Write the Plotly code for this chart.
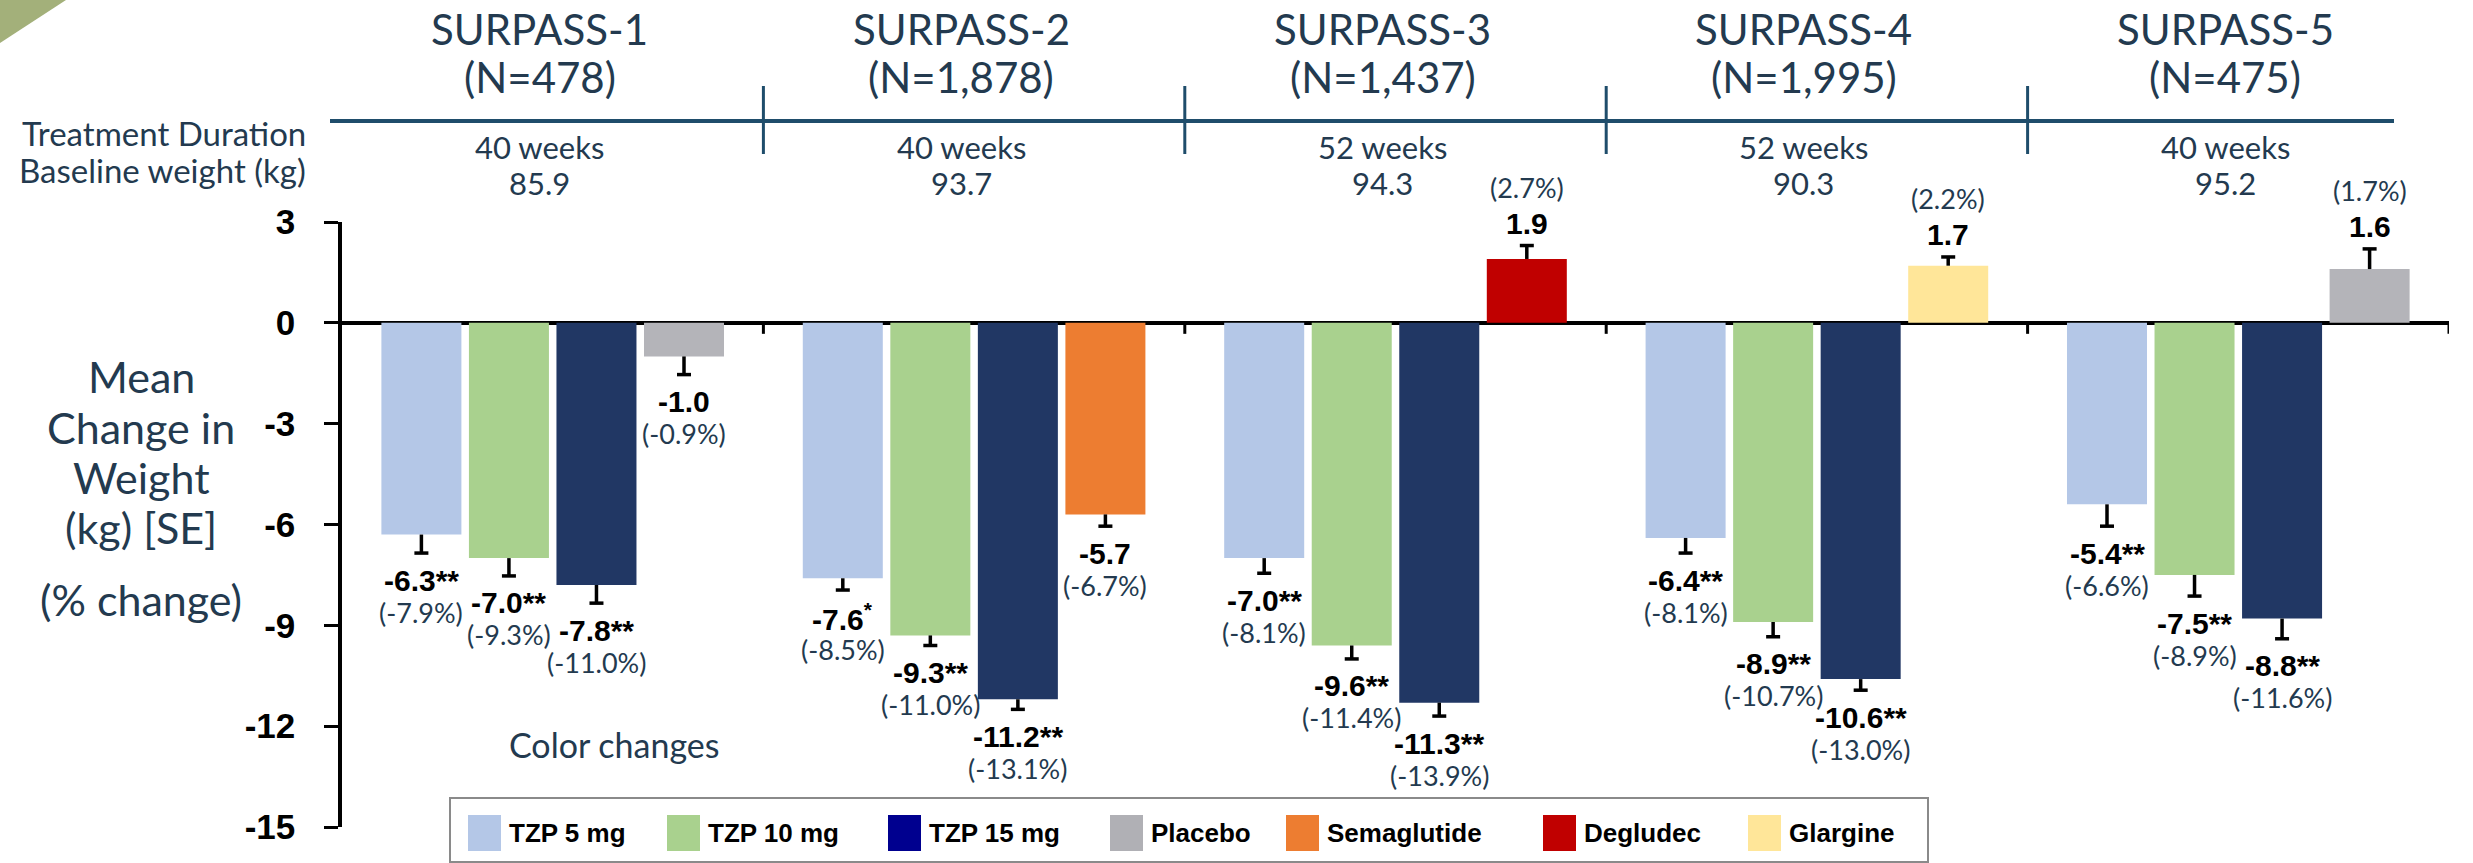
import plotly.graph_objects as go

# ---------------- data ----------------
trials = ["SURPASS-1", "SURPASS-2", "SURPASS-3", "SURPASS-4", "SURPASS-5"]
n_labels = ["(N=478)", "(N=1,878)", "(N=1,437)", "(N=1,995)", "(N=475)"]
durations = ["40 weeks", "40 weeks", "52 weeks", "52 weeks", "40 weeks"]
baseline_kg = ["85.9", "93.7", "94.3", "90.3", "95.2"]
comparators = ["Placebo", "Semaglutide", "Degludec", "Glargine", "Placebo"]

tzp5_kg = [-6.3, -7.6, -7.0, -6.4, -5.4]
tzp5_pct = [-7.9, -8.5, -8.1, -8.1, -6.6]
tzp5_se = [0.55, 0.35, 0.45, 0.45, 0.65]
tzp5_sig = ["**", "*", "**", "**", "**"]

tzp10_kg = [-7.0, -9.3, -9.6, -8.9, -7.5]
tzp10_pct = [-9.3, -11.0, -11.4, -10.7, -8.9]
tzp10_se = [0.53, 0.30, 0.40, 0.44, 0.63]
tzp10_sig = ["**", "**", "**", "**", "**"]

tzp15_kg = [-7.8, -11.2, -11.3, -10.6, -8.8]
tzp15_pct = [-11.0, -13.1, -13.9, -13.0, -11.6]
tzp15_se = [0.54, 0.30, 0.40, 0.33, 0.60]
tzp15_sig = ["**", "**", "**", "**", "**"]

comp_kg = [-1.0, -5.7, 1.9, 1.7, 1.6]
comp_pct = [-0.9, -6.7, 2.7, 2.2, 1.7]
comp_se = [0.54, 0.35, 0.40, 0.26, 0.60]
comp_sig = ["", "", "", "", ""]

y_ticks = [-15, -12, -9, -6, -3, 0, 3]
legend_names = ["TZP 5 mg", "TZP 10 mg", "TZP 15 mg", "Placebo",
                "Semaglutide", "Degludec", "Glargine"]

# ---------------- styles ----------------
bar_colors = {
    "TZP 5 mg": "#b4c7e7", "TZP 10 mg": "#a9d18e", "TZP 15 mg": "#213764",
    "Placebo": "#b4b4b9", "Semaglutide": "#ed7d31", "Degludec": "#c00000",
    "Glargine": "#ffe699",
}
legend_colors = {
    "TZP 5 mg": "#b4c7e7", "TZP 10 mg": "#a9d18e", "TZP 15 mg": "#00008f",
    "Placebo": "#b0b0b5", "Semaglutide": "#ed7d31", "Degludec": "#c00000",
    "Glargine": "#ffe699",
}
legend_swatch_x = [468, 667, 888, 1110, 1286, 1543, 1748]

TEXT = "#233a4f"
RULE = "#1f4d6b"
SANS = "Lato, 'Open Sans', sans-serif"
BOLD = "'Liberation Sans', Arial, sans-serif"

W, H = 2473, 863
ML, MR, MT, MB = 342, 24, 222, 36
PW, PH = W - ML - MR, H - MT - MB

GROUP_STEP = 4.814      # slot units between consecutive trials
HALF_GAP = (GROUP_STEP - 3) / 2
BAR_W = 0.914
CAP = 0.08


def px(p):
    return (p - ML) / PW


def py(p):
    return (H - MB - p) / PH


def slot_x(g, s):
    return g * GROUP_STEP + s


fig = go.Figure()

# ---------------- bars ----------------
series = [
    ("TZP 5 mg", 0, tzp5_kg, tzp5_pct, tzp5_se, tzp5_sig),
    ("TZP 10 mg", 1, tzp10_kg, tzp10_pct, tzp10_se, tzp10_sig),
    ("TZP 15 mg", 2, tzp15_kg, tzp15_pct, tzp15_se, tzp15_sig),
]
bars = []  # (name, x, value, pct, se, sig)
for name, s, kg, pct, se, sig in series:
    for g in range(len(trials)):
        bars.append((name, slot_x(g, s), kg[g], pct[g], se[g], sig[g]))
for g, comp in enumerate(comparators):
    bars.append((comp, slot_x(g, 3), comp_kg[g], comp_pct[g], comp_se[g], comp_sig[g]))

for name in legend_names:
    pts = [b for b in bars if b[0] == name]
    fig.add_trace(go.Bar(
        x=[b[1] for b in pts], y=[b[2] for b in pts], width=BAR_W,
        marker=dict(color=bar_colors[name], line=dict(width=0)),
        name=name, showlegend=False, hoverinfo="skip",
    ))

# ---------------- one-sided SE whiskers ----------------
ex, ey = [], []
for name, x, v, p, se, sig in bars:
    end = v + se if v > 0 else v - se
    ex += [x, x, None, x - CAP, x + CAP, None]
    ey += [v, end, None, end, end, None]
fig.add_trace(go.Scatter(x=ex, y=ey, mode="lines",
                         line=dict(color="black", width=3.5),
                         showlegend=False, hoverinfo="skip"))

annotations = []

# ---------------- value labels ----------------
for name, x, v, p, se, sig in bars:
    end = v + se if v > 0 else v - se
    if sig == "*":
        val_txt = f"{v:.1f}<sup>*</sup>"
    else:
        val_txt = f"{v:.1f}{sig}"
    pct_txt = f"({p:.1f}%)"
    if v > 0:
        s1, s2 = 22, 58
    else:
        s1, s2 = -27, -59
    annotations.append(dict(
        x=x, y=end, xref="x", yref="y", text=val_txt, showarrow=False,
        yshift=s1, xanchor="center", yanchor="middle",
        font=dict(family=BOLD, size=30, color="black", weight="bold")))
    annotations.append(dict(
        x=x, y=end, xref="x", yref="y", text=pct_txt, showarrow=False,
        yshift=s2, xanchor="center", yanchor="middle",
        font=dict(family=SANS, size=27, color=TEXT)))

# ---------------- trial headers ----------------
for g in range(len(trials)):
    xc = slot_x(g, 1.5)
    for txt, ypix, size in [(trials[g], 29, 42), (n_labels[g], 77, 42),
                            (durations[g], 147, 31), (baseline_kg[g], 183, 31)]:
        annotations.append(dict(
            x=xc, y=py(ypix), xref="x", yref="paper", text=txt,
            showarrow=False, xshift=-13, xanchor="center", yanchor="middle",
            font=dict(family=SANS, size=size, color=TEXT)))

for txt, ypix in [("Treatment Duration", 133), ("Baseline weight (kg)", 170)]:
    annotations.append(dict(
        x=px(308), y=py(ypix), xref="paper", yref="paper", text=txt,
        showarrow=False, xanchor="right", yanchor="middle",
        font=dict(family=SANS, size=33, color=TEXT)))

# ---------------- y-axis title ----------------
for txt, ypix in [("Mean", 376), ("Change in", 427), ("Weight", 477),
                  ("(kg) [SE]", 527), ("(% change)", 599)]:
    annotations.append(dict(
        x=px(141), y=py(ypix), xref="paper", yref="paper", text=txt,
        showarrow=False, xanchor="center", yanchor="middle",
        font=dict(family=SANS, size=43, color=TEXT)))

annotations.append(dict(
    x=px(614), y=py(744), xref="paper", yref="paper", text="Color changes",
    showarrow=False, xanchor="center", yanchor="middle",
    font=dict(family=SANS, size=34, color=TEXT)))

# ---------------- shapes ----------------
shapes = []
# corner accent
shapes.append(dict(type="path", xref="paper", yref="paper",
                   path=f"M {px(0)},{py(0)} L {px(66)},{py(0)} L {px(0)},{py(43)} Z",
                   fillcolor="#a3b07a", line=dict(width=0), layer="above"))
# header rule and separators
shapes.append(dict(type="line", xref="paper", yref="paper",
                   x0=px(330), x1=px(2394), y0=py(121), y1=py(121),
                   line=dict(color=RULE, width=4)))
for g in range(1, len(trials)):
    xb = g * GROUP_STEP - HALF_GAP
    shapes.append(dict(type="line", xref="x", yref="paper",
                       x0=xb, x1=xb, y0=py(86), y1=py(154),
                       line=dict(color=RULE, width=3)))
# ticks along the zero line at trial boundaries
for g in range(1, len(trials) + 1):
    xb = g * GROUP_STEP - HALF_GAP
    shapes.append(dict(type="line", xref="x", yref="y", ysizemode="pixel",
                       yanchor=0, x0=xb, x1=xb, y0=0, y1=-11,
                       line=dict(color="black", width=3)))

# ---------------- legend ----------------
shapes.append(dict(type="rect", xref="paper", yref="paper",
                   x0=px(450), x1=px(1928), y0=py(798), y1=py(862),
                   line=dict(color="#8a8a8a", width=2), fillcolor="white"))
for name, sx in zip(legend_names, legend_swatch_x):
    shapes.append(dict(type="rect", xref="paper", yref="paper",
                       x0=px(sx), x1=px(sx + 33), y0=py(815), y1=py(851),
                       line=dict(width=0), fillcolor=legend_colors[name]))
    annotations.append(dict(
        x=px(sx + 39), y=py(833), xref="paper", yref="paper", text=name,
        showarrow=False, xanchor="left", yanchor="middle",
        font=dict(family=BOLD, size=26, color="black", weight="bold")))

fig.update_layout(
    width=W, height=H, autosize=False,
    margin=dict(l=ML, r=MR, t=MT, b=MB, pad=0),
    paper_bgcolor="white", plot_bgcolor="white",
    barmode="overlay", showlegend=False,
    font=dict(family=SANS, color=TEXT),
    xaxis=dict(range=[-HALF_GAP, len(trials) * GROUP_STEP - HALF_GAP],
               visible=False, showgrid=False, zeroline=False, fixedrange=True),
    yaxis=dict(range=[-15, 3], tickvals=y_ticks, ticktext=[str(t) for t in y_ticks],
               showline=True, linecolor="black", linewidth=3.5,
               ticks="outside", ticklen=14, tickwidth=3, tickcolor="black",
               ticklabelstandoff=22, showgrid=False,
               zeroline=True, zerolinecolor="black", zerolinewidth=3.5,
               tickfont=dict(family=BOLD, size=35, color="black", weight="bold"),
               automargin=False, fixedrange=True),
    shapes=shapes, annotations=annotations,
)

fig.write_html("out.html")
